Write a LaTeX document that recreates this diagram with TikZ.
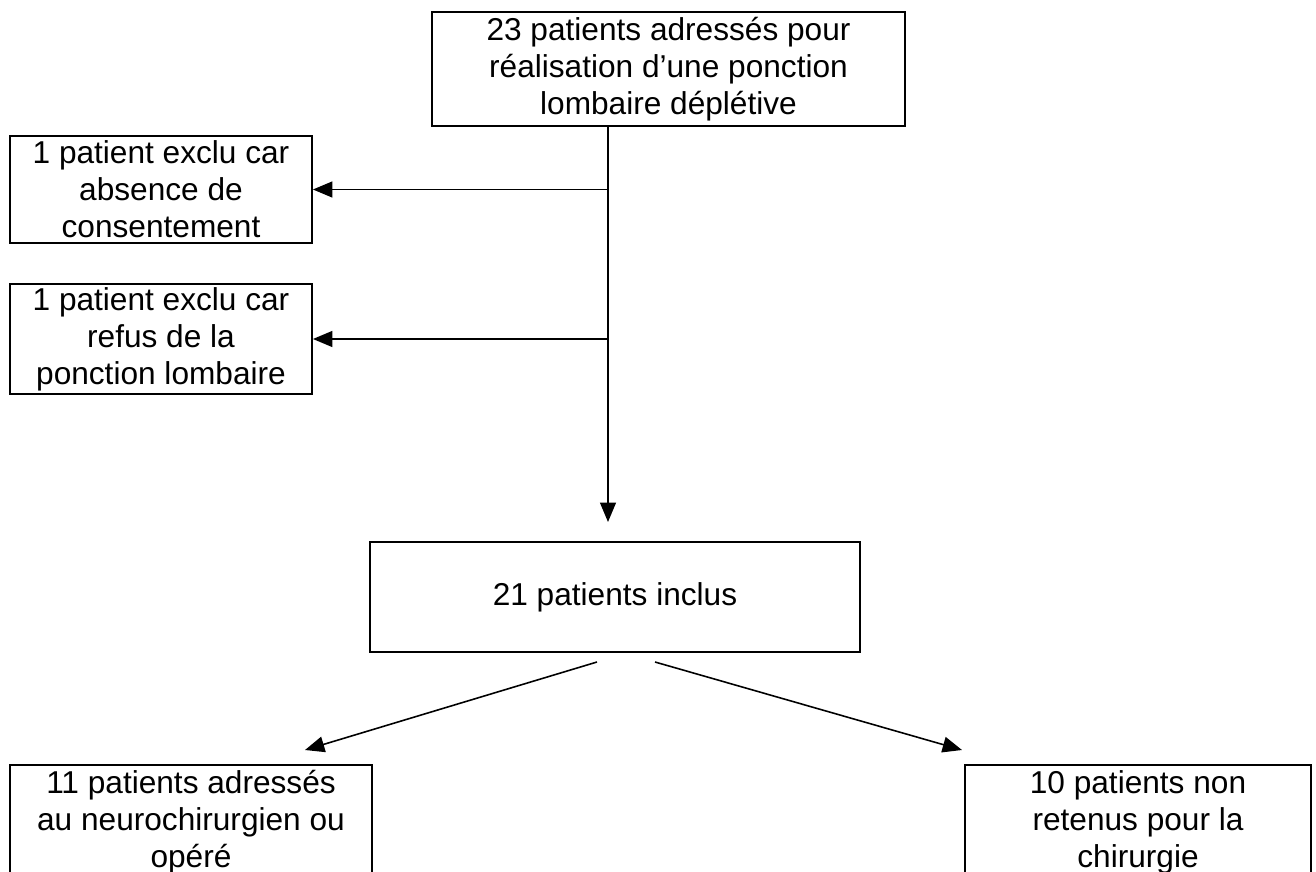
\documentclass[tikz,border=0pt]{standalone}
\usepackage{fontspec}
\setmainfont{Liberation Sans}
\usetikzlibrary{arrows.meta}
\tikzset{
	box/.style={draw, line width=1.1pt, align=center, inner sep=2pt, font=\fontsize{18}{21}\selectfont},
	arr/.style={-{Triangle[length=11pt,width=9pt]}, line width=0.9pt}
}
\begin{document}
\begin{tikzpicture}[x=0.02cm,y=-0.02cm]
		% Frame
		\useasboundingbox (0,0) rectangle (1316,872);
		\clip (0,0) rectangle (1316,872);
		% Boxes
		\node[box, minimum width=9.46cm, minimum height=2.28cm] (top) at (668.5,69) {23 patients adressés pour\\réalisation d’une ponction\\lombaire déplétive};
		\node[box, minimum width=6.04cm, minimum height=2.14cm] (excl1) at (161,189.5) {1 patient exclu car\\absence de\\consentement};
		\node[box, minimum width=6.04cm, minimum height=2.16cm] (excl2) at (161,339) {1 patient exclu car\\refus de la\\ponction lombaire};
		\node[box, minimum width=9.8cm, minimum height=2.2cm] (incl) at (615,597) {21 patients inclus};
		\node[box, minimum width=7.24cm, minimum height=2.28cm] (neuro) at (191,822) {11 patients adressés\\au neurochirurgien ou\\opéré};
		\node[box, minimum width=6.92cm, minimum height=2.28cm] (nonret) at (1138,822) {10 patients non\\retenus pour la\\chirurgie};
		% Trunk and exclusions
		\coordinate (trunk) at (608,126);
		\coordinate (trunkend) at (608,522);
		\draw[arr] (trunk) -- (trunkend);
		\draw[arr] (trunk |- excl1.east) -- (excl1.east);
		\draw[arr] (trunk |- excl2.east) -- (excl2.east);
		% Split
		\coordinate (splitL) at (597,662);
		\coordinate (splitR) at (655,662);
		\coordinate (neurotip) at (305,750);
		\coordinate (nonrettip) at (962,750);
		\draw[arr] (splitL) -- (neurotip);
		\draw[arr] (splitR) -- (nonrettip);
	\end{tikzpicture}
\end{document}
